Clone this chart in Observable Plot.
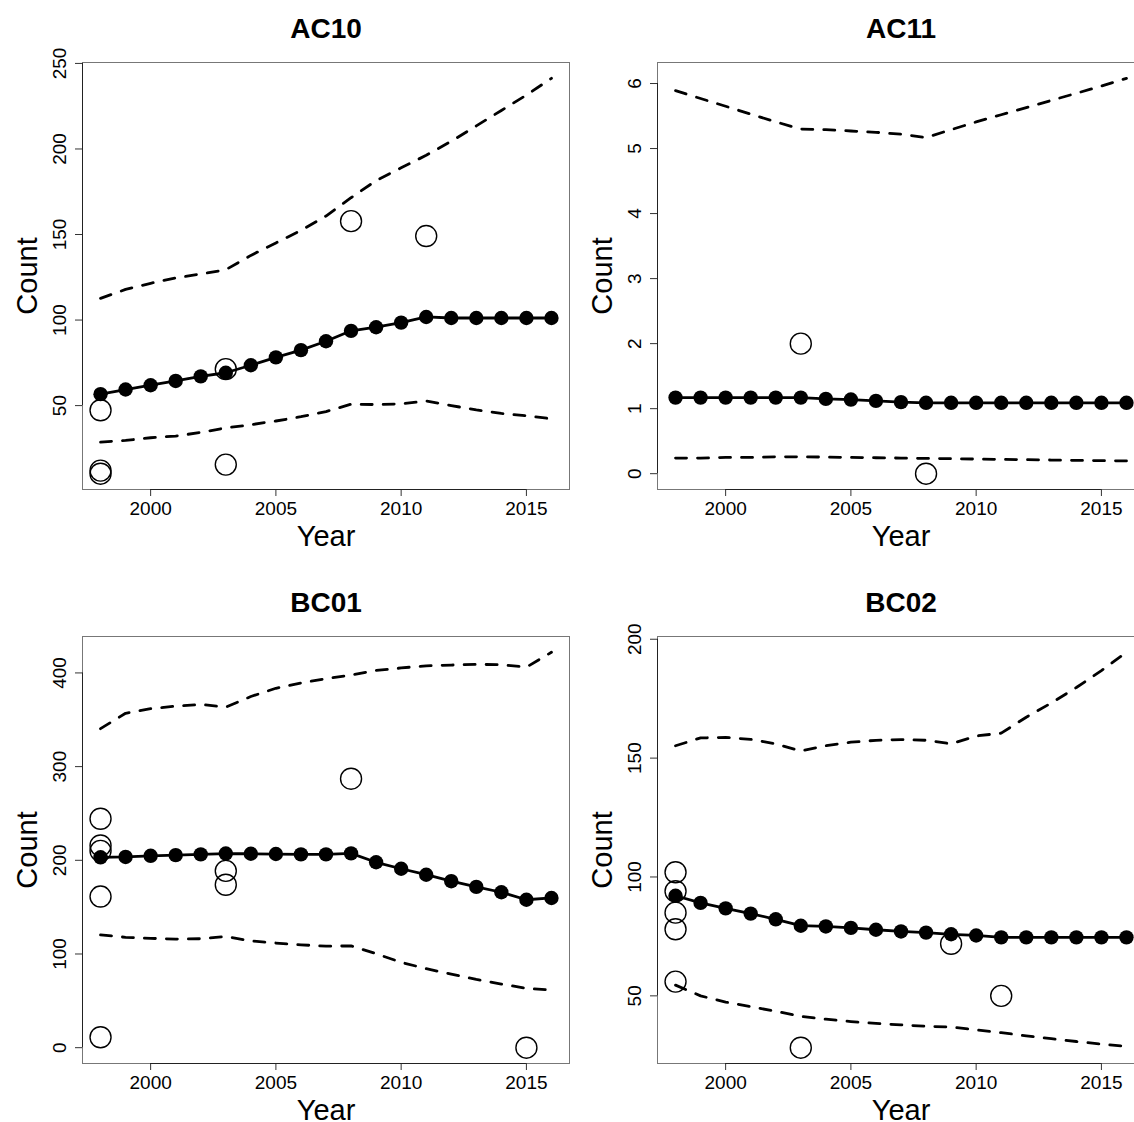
<!DOCTYPE html>
<html><head><meta charset="utf-8">
<script src="https://cdn.jsdelivr.net/npm/d3@7"></script>
<script src="https://cdn.jsdelivr.net/npm/@observablehq/plot@0.6"></script>
<style>
html,body{margin:0;padding:0;background:#fff;}
#wrap{position:relative;width:1134px;height:1122px;overflow:hidden;background:#fff;}
.panel{position:absolute;width:575px;height:574px;}
.panel svg{max-width:none !important;width:575px;height:574px;display:block;}
</style></head><body><div id="wrap"></div>
<script>
const years = [1998,1999,2000,2001,2002,2003,2004,2005,2006,2007,2008,2009,2010,2011,2012,2013,2014,2015,2016];
const xTicks = [2000,2005,2010,2015];

// AC10
const ac10Fitted = [56.7,59.4,61.9,64.4,67.1,69.2,73.6,78.2,82.4,87.6,93.7,95.8,98.5,101.8,101.2,101.2,101.2,101.2,101.2];
const ac10Upper  = [112.7,117.9,121.5,124.6,126.9,129.4,137.8,145.1,152.4,160.8,171.5,181.5,189.0,196.3,204.5,213.5,222.5,231.5,241.3];
const ac10Lower  = [28.7,29.7,31.2,32.2,34.3,37.0,38.8,41.0,43.5,46.5,50.8,50.6,51.0,52.7,50.0,47.5,45.4,44.0,42.3];
const ac10ObsYears = [1998,1998,1998,2003,2003,2008,2011];
const ac10ObsCounts = [47.3,12.0,10.2,71.3,15.5,157.8,149.1];
const ac10YTicks = [50,100,150,200,250];

// AC11
const ac11Fitted = [1.17,1.17,1.17,1.17,1.17,1.17,1.15,1.14,1.12,1.10,1.09,1.09,1.09,1.09,1.09,1.09,1.09,1.09,1.09];
const ac11Upper  = [5.89,5.77,5.65,5.53,5.41,5.30,5.29,5.27,5.25,5.22,5.17,5.29,5.41,5.52,5.63,5.74,5.85,5.96,6.08];
const ac11Lower  = [0.24,0.24,0.25,0.25,0.26,0.26,0.255,0.25,0.245,0.24,0.235,0.23,0.225,0.22,0.215,0.21,0.205,0.20,0.197];
const ac11ObsYears = [2003,2008];
const ac11ObsCounts = [2,0];
const ac11YTicks = [0,1,2,3,4,5,6];

// BC01
const bc01Fitted = [203.2,203.6,204.8,205.5,206.3,207.2,207.0,206.7,206.3,206.3,207.4,197.9,191.0,184.6,177.7,171.6,165.9,157.9,159.8];
const bc01Upper  = [340.5,356.9,361.9,364.5,366.4,363.5,374.8,383.6,389.3,393.9,397.7,402.7,405.3,407.6,408.4,409.1,408.8,406.1,422.0];
const bc01Lower  = [120.5,117.8,116.7,115.9,116.3,118.6,114.0,111.7,109.8,108.3,108.7,100.3,91.1,84.3,78.5,72.8,67.9,63.3,61.4];
const bc01ObsYears = [1998,1998,1998,1998,1998,2003,2003,2008,2015];
const bc01ObsCounts = [244.4,215.8,210.1,161.3,11.1,188.7,173.9,287.1,0];
const bc01YTicks = [0,100,200,300,400];

// BC02
const bc02Fitted = [92.1,89.1,86.8,84.6,82.2,79.5,79.2,78.6,77.8,77.1,76.6,75.9,75.4,74.6,74.6,74.6,74.6,74.6,74.6];
const bc02Upper  = [155.2,158.5,158.7,157.9,156.0,153.0,155.2,156.7,157.5,157.8,157.5,156.0,159.3,160.5,167.2,173.2,179.7,186.8,194.5];
const bc02Lower  = [54.5,50.0,47.4,45.5,43.5,41.4,40.2,39.2,38.4,37.8,37.2,36.9,35.7,34.5,33.2,32.0,30.8,29.7,28.7];
const bc02ObsYears = [1998,1998,1998,1998,1998,2003,2009,2011];
const bc02ObsCounts = [102,94,85,78,56,28.2,71.9,50];
const bc02YTicks = [50,100,150,200];

const FONT = "'Liberation Sans', Arial, Helvetica, sans-serif";

function makePanel(title, fitted, upper, lower, obsYears, obsCounts, yTicks) {
  const all = [...fitted, ...upper, ...lower, ...obsCounts];
  const lo = d3.min(all), hi = d3.max(all), r = hi - lo;
  const yDomain = [lo - 0.04 * r, hi + 0.04 * r];
  const xr = years[years.length - 1] - years[0];
  const xDomain = [years[0] - 0.04 * xr, years[years.length - 1] + 0.04 * xr];
  const series = years.map((y, i) => ({year: y, fit: fitted[i], up: upper[i], low: lower[i]}));
  const obs = obsYears.map((y, i) => ({year: y, count: obsCounts[i]}));
  return Plot.plot({
    width: 575, height: 574,
    marginLeft: 82, marginRight: 6, marginTop: 62, marginBottom: 85,
    x: {domain: xDomain},
    y: {domain: yDomain},
    style: {fontFamily: FONT, background: "white", color: "black", overflow: "visible"},
    marks: [
      Plot.frame({stroke: "#777", strokeWidth: 1}),
      Plot.axisX({ticks: xTicks, tickFormat: "d", tickSize: 7, tickPadding: 5, fontSize: 19, label: null, stroke: "#333"}),
      Plot.axisY({ticks: yTicks, tickFormat: d => String(d), tickSize: 7, tickPadding: 10, tickRotate: -90, fontSize: 19, label: null, stroke: "#333"}),
      Plot.ruleY([yDomain[0]], {x1: () => xTicks[0], x2: () => xTicks[xTicks.length - 1], stroke: "#222", strokeWidth: 1}),
      Plot.ruleX([xDomain[0]], {y1: () => yTicks[0], y2: () => yTicks[yTicks.length - 1], stroke: "#222", strokeWidth: 1}),
      Plot.dot(obs, {x: "year", y: "count", r: 10.5, stroke: "black", strokeWidth: 1.4, fill: "none"}),
      Plot.line(series, {x: "year", y: "up", stroke: "black", strokeWidth: 2.8, strokeDasharray: "11 11"}),
      Plot.line(series, {x: "year", y: "low", stroke: "black", strokeWidth: 2.8, strokeDasharray: "11 11"}),
      Plot.line(series, {x: "year", y: "fit", stroke: "black", strokeWidth: 2.8}),
      Plot.dot(series, {x: "year", y: "fit", r: 7.2, fill: "black", stroke: "none"}),
      Plot.text([title], {text: d => d, frameAnchor: "top", dy: -25, lineAnchor: "bottom", fontSize: 28, fontWeight: "bold", fill: "black"}),
      Plot.text(["Count"], {text: d => d, frameAnchor: "left", textAnchor: "middle", dx: -46, rotate: -90, lineAnchor: "bottom", fontSize: 29, fill: "black"}),
      Plot.text(["Year"], {text: d => d, frameAnchor: "bottom", textAnchor: "middle", dy: 56, lineAnchor: "bottom", fontSize: 29, fill: "black"})
    ]
  });
}

const panels = [
  {t: "AC10", f: ac10Fitted, u: ac10Upper, l: ac10Lower, oy: ac10ObsYears, oc: ac10ObsCounts, yt: ac10YTicks, left: 0, top: 0},
  {t: "AC11", f: ac11Fitted, u: ac11Upper, l: ac11Lower, oy: ac11ObsYears, oc: ac11ObsCounts, yt: ac11YTicks, left: 575, top: 0},
  {t: "BC01", f: bc01Fitted, u: bc01Upper, l: bc01Lower, oy: bc01ObsYears, oc: bc01ObsCounts, yt: bc01YTicks, left: 0, top: 574},
  {t: "BC02", f: bc02Fitted, u: bc02Upper, l: bc02Lower, oy: bc02ObsYears, oc: bc02ObsCounts, yt: bc02YTicks, left: 575, top: 574}
];

const wrap = document.getElementById("wrap");
for (const p of panels) {
  const div = document.createElement("div");
  div.className = "panel";
  div.style.left = p.left + "px";
  div.style.top = p.top + "px";
  div.appendChild(makePanel(p.t, p.f, p.u, p.l, p.oy, p.oc, p.yt));
  wrap.appendChild(div);
}
</script>
</body></html>
